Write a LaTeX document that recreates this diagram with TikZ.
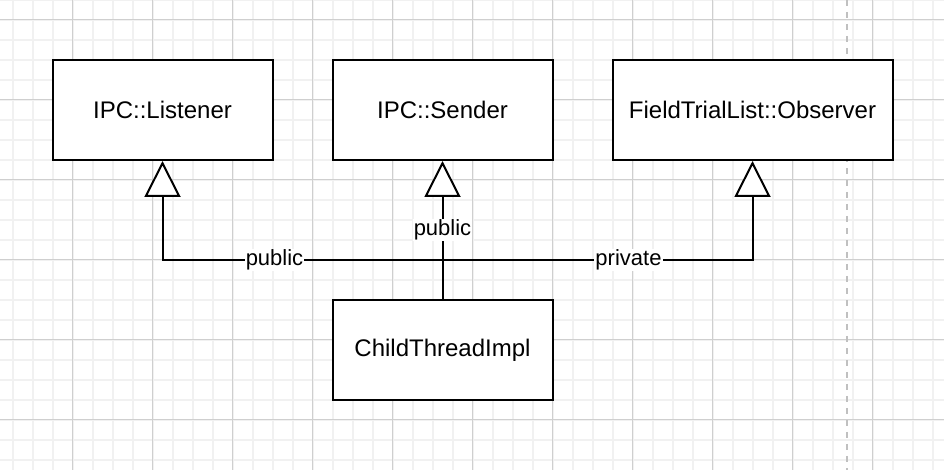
\documentclass[tikz,border=0pt]{standalone}
\usepackage{fontspec}
\setmainfont{Liberation Sans}
\usetikzlibrary{arrows.meta}
\definecolor{gridminor}{HTML}{F1F1F1}
\definecolor{gridmajor}{HTML}{CFCFCF}
\definecolor{pagebreak}{HTML}{C0C0C0}
\tikzset{
  classbox/.style={draw, line width=1pt, fill=white, minimum width=110pt, minimum height=50pt, font=\fontsize{12}{14}\selectfont},
  inherit/.style={line width=1pt, -{Triangle[open, fill=white, width=18pt, length=18pt]}},
  lbl/.style={fill=white, inner sep=0.5pt, font=\fontsize{11}{13}\selectfont}
}
\begin{document}
\begin{tikzpicture}[x=0.5pt, y=-0.5pt, line join=miter]
\useasboundingbox (0,0) rectangle (944,470);
% grid
\foreach \x in {12.5,32.5,...,932.5} \draw[gridminor, line width=1pt] (\x,0)--(\x,470);
\foreach \y in {0,20,...,460} \draw[gridminor, line width=1pt] (0,\y)--(944,\y);
\foreach \x in {72.5,152.5,...,872.5} \draw[gridmajor, line width=0.5pt] (\x,0)--(\x,470);
\foreach \y in {20,100,...,420} \draw[gridmajor, line width=0.5pt] (0,\y)--(944,\y);
\draw[pagebreak, line width=1pt, dash pattern=on 3pt off 3pt] (846.5,0)--(846.5,470);
% classes
\node[classbox] (listener) at (162.5,110) {IPC::Listener};
\node[classbox] (sender) at (442.5,110) {IPC::Sender};
\node[classbox, minimum width=140pt] (observer) at (752.5,110) {FieldTrialList::Observer};
\node[classbox] (child) at (442.5,350) {ChildThreadImpl};
\coordinate (bend) at (442.5,260);
% inheritance
\draw[inherit] (child.north) -- (bend) -| node[lbl, pos=0.3]{public} (listener.south);
\draw[inherit] (child.north) -- node[lbl, pos=0.5]{public} (sender.south);
\draw[inherit] (bend) -| node[lbl, pos=0.3]{private} (observer.south);
\end{tikzpicture}
\end{document}
